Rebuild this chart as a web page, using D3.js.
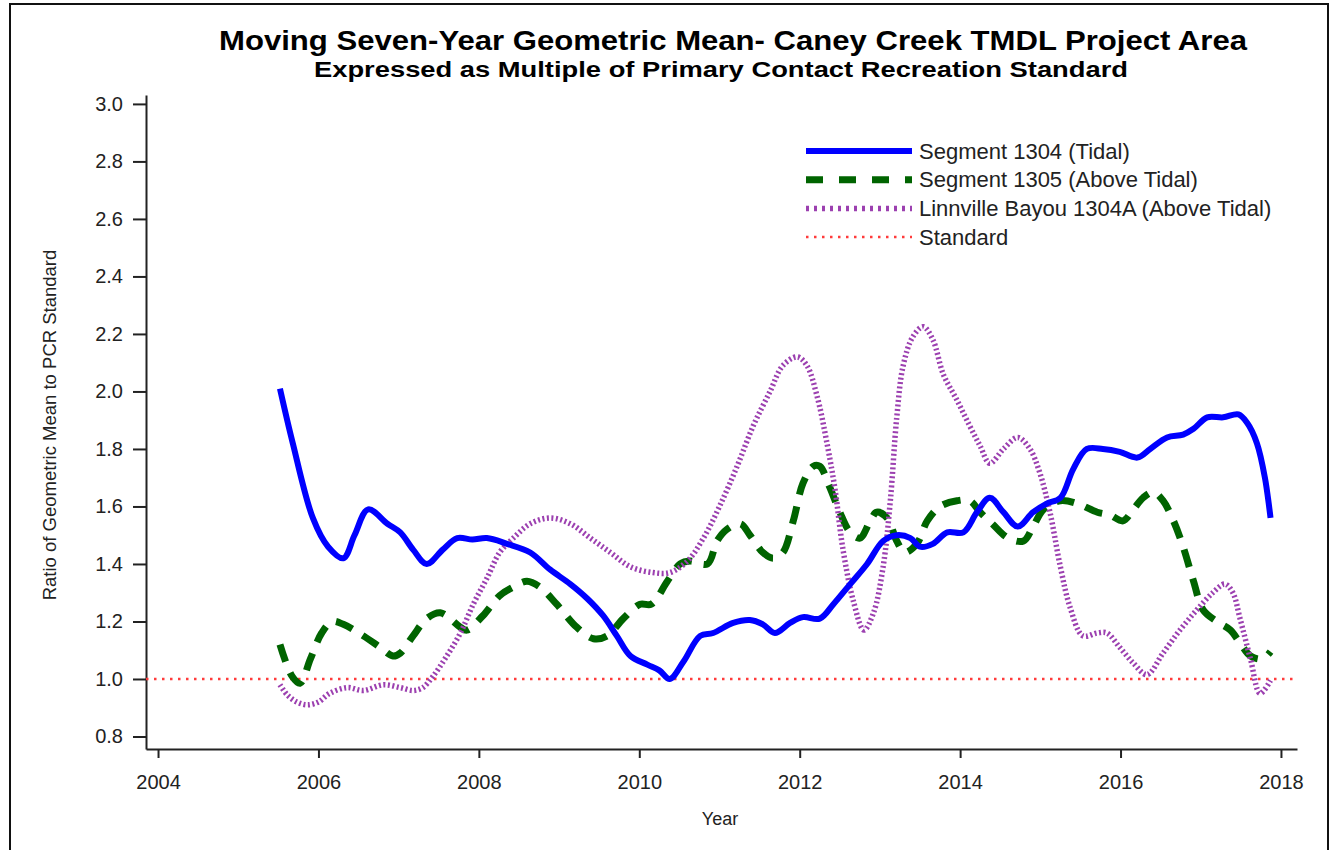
<!DOCTYPE html>
<html lang="en">
<head>
  <meta charset="utf-8">
  <title>Moving Seven-Year Geometric Mean</title>
  <script src="https://cdn.jsdelivr.net/npm/d3@7"></script>
  <style>
    body { margin: 0; background: #fff; }
    svg text { font-family: "Liberation Sans", Arial, sans-serif; fill: #222; }
    .axis path, .axis line { stroke: #222; stroke-width: 2px; }
  </style>
</head>
<body>
<svg width="1330" height="850"></svg>
<script>

// values (year, ratio)
var seg1304Years = [2005.52, 2005.68, 2005.93, 2006.12, 2006.31, 2006.45, 2006.62, 2006.86, 2007.02, 2007.18, 2007.35, 2007.55, 2007.73, 2007.92, 2008.10, 2008.35, 2008.64, 2008.89, 2009.14, 2009.35, 2009.55, 2009.72, 2009.89, 2010.10, 2010.25, 2010.38, 2010.55, 2010.76, 2010.92, 2011.17, 2011.38, 2011.54, 2011.69, 2011.88, 2012.04, 2012.25, 2012.42, 2012.63, 2012.84, 2013.04, 2013.21, 2013.38, 2013.50, 2013.66, 2013.84, 2014.04, 2014.21, 2014.37, 2014.54, 2014.72, 2014.91, 2015.08, 2015.25, 2015.41, 2015.58, 2015.78, 2015.99, 2016.21, 2016.37, 2016.58, 2016.78, 2016.91, 2017.08, 2017.28, 2017.47, 2017.58, 2017.70, 2017.80, 2017.87];
var seg1304Vals = [2.01, 1.82, 1.56, 1.46, 1.42, 1.50, 1.59, 1.54, 1.51, 1.45, 1.40, 1.45, 1.49, 1.485, 1.49, 1.47, 1.44, 1.38, 1.33, 1.28, 1.22, 1.15, 1.08, 1.05, 1.03, 1.00, 1.06, 1.15, 1.16, 1.195, 1.205, 1.19, 1.16, 1.195, 1.215, 1.21, 1.26, 1.33, 1.40, 1.48, 1.50, 1.49, 1.46, 1.47, 1.51, 1.51, 1.58, 1.63, 1.58, 1.53, 1.58, 1.61, 1.63, 1.73, 1.80, 1.80, 1.79, 1.77, 1.80, 1.84, 1.85, 1.87, 1.91, 1.91, 1.92, 1.89, 1.82, 1.70, 1.56];

var seg1305Years = [2005.52, 2005.67, 2005.77, 2005.90, 2006.04, 2006.17, 2006.31, 2006.56, 2006.77, 2006.93, 2007.02, 2007.18, 2007.35, 2007.52, 2007.77, 2007.85, 2008.05, 2008.26, 2008.43, 2008.60, 2008.76, 2008.97, 2009.22, 2009.43, 2009.60, 2009.80, 2010.01, 2010.15, 2010.35, 2010.51, 2010.63, 2010.85, 2010.97, 2011.09, 2011.26, 2011.38, 2011.54, 2011.67, 2011.79, 2011.92, 2012.04, 2012.17, 2012.25, 2012.37, 2012.50, 2012.63, 2012.75, 2012.88, 2012.96, 2013.09, 2013.21, 2013.31, 2013.46, 2013.59, 2013.75, 2013.96, 2014.12, 2014.25, 2014.40, 2014.60, 2014.79, 2014.91, 2015.04, 2015.25, 2015.46, 2015.71, 2015.87, 2016.03, 2016.16, 2016.28, 2016.41, 2016.53, 2016.66, 2016.78, 2016.91, 2017.03, 2017.20, 2017.37, 2017.49, 2017.62, 2017.77, 2017.87];
var seg1305Vals = [1.12, 1.01, 0.985, 1.07, 1.16, 1.20, 1.19, 1.15, 1.11, 1.08, 1.09, 1.15, 1.21, 1.23, 1.18, 1.17, 1.22, 1.29, 1.32, 1.34, 1.32, 1.26, 1.18, 1.14, 1.15, 1.21, 1.26, 1.26, 1.34, 1.40, 1.41, 1.40, 1.48, 1.52, 1.54, 1.50, 1.44, 1.42, 1.44, 1.55, 1.68, 1.74, 1.74, 1.67, 1.58, 1.51, 1.49, 1.55, 1.58, 1.56, 1.48, 1.44, 1.47, 1.55, 1.60, 1.62, 1.62, 1.58, 1.54, 1.49, 1.48, 1.53, 1.59, 1.62, 1.61, 1.58, 1.57, 1.55, 1.59, 1.63, 1.65, 1.62, 1.55, 1.46, 1.34, 1.24, 1.20, 1.17, 1.125, 1.08, 1.07, 1.095];

var linnYears = [2005.52, 2005.61, 2005.73, 2005.86, 2006.00, 2006.14, 2006.36, 2006.56, 2006.81, 2007.02, 2007.18, 2007.30, 2007.43, 2007.60, 2007.77, 2007.93, 2008.10, 2008.26, 2008.43, 2008.64, 2008.89, 2009.14, 2009.39, 2009.64, 2009.89, 2010.17, 2010.38, 2010.60, 2010.80, 2011.00, 2011.22, 2011.42, 2011.63, 2011.79, 2011.97, 2012.09, 2012.22, 2012.34, 2012.44, 2012.54, 2012.67, 2012.80, 2012.92, 2013.04, 2013.13, 2013.21, 2013.29, 2013.41, 2013.54, 2013.66, 2013.79, 2013.96, 2014.12, 2014.25, 2014.37, 2014.54, 2014.72, 2014.87, 2014.99, 2015.12, 2015.25, 2015.37, 2015.53, 2015.71, 2015.83, 2015.99, 2016.16, 2016.33, 2016.53, 2016.74, 2016.95, 2017.15, 2017.30, 2017.40, 2017.49, 2017.62, 2017.74, 2017.87];
var linnVals = [0.98, 0.945, 0.92, 0.91, 0.92, 0.95, 0.97, 0.96, 0.98, 0.97, 0.96, 0.97, 1.01, 1.08, 1.16, 1.26, 1.35, 1.44, 1.49, 1.54, 1.56, 1.54, 1.49, 1.44, 1.39, 1.37, 1.37, 1.41, 1.49, 1.60, 1.74, 1.88, 2.00, 2.09, 2.12, 2.09, 1.98, 1.82, 1.66, 1.45, 1.27, 1.17, 1.23, 1.39, 1.62, 1.91, 2.09, 2.19, 2.225, 2.18, 2.06, 1.97, 1.88, 1.81, 1.75, 1.80, 1.84, 1.80, 1.72, 1.58, 1.39, 1.25, 1.15, 1.16, 1.16, 1.11, 1.055, 1.015, 1.09, 1.17, 1.24, 1.30, 1.33, 1.30, 1.21, 1.07, 0.95, 0.995];

var standardYears = [2003.85, 2018.2];
var standardVals = [1.0, 1.0];

var xTicks = [2004, 2006, 2008, 2010, 2012, 2014, 2016, 2018];
var yTicks = [0.8, 1.0, 1.2, 1.4, 1.6, 1.8, 2.0, 2.2, 2.4, 2.6, 2.8, 3.0];

var seriesNames = ["Segment 1304 (Tidal)", "Segment 1305 (Above Tidal)", "Linnville Bayou 1304A (Above Tidal)", "Standard"];

var svg = d3.select("svg");

var x = d3.scaleLinear().domain([2003.85, 2018.2]).range([146, 1297]);
var y = d3.scaleLinear().domain([0.7565, 3.031]).range([749, 95]);

function pairs(xs, vs) {
  return xs.map(function(d, i) { return [d, vs[i]]; });
}

var styles = [
  {data: pairs(seg1304Years, seg1304Vals), color: "#0000ff", width: 6, dash: null, legendDash: null},
  {data: pairs(seg1305Years, seg1305Vals), color: "#006400", width: 7, dash: "18,12", legendDash: "17,16"},
  {data: pairs(linnYears, linnVals), color: "#9c40b0", width: 5.5, dash: "2,2.5", legendDash: "3,5"},
  {data: pairs(standardYears, standardVals), color: "#ff3b3b", width: 2.5, dash: "2.5,5.5", legendDash: "2.5,5.5"}
];

// frame around the picture
svg.append("path")
    .attr("d", "M10,850 V4 H1328 V850")
    .attr("fill", "none")
    .attr("stroke", "#111")
    .attr("stroke-width", 2);

// titles
svg.append("text")
    .attr("x", 733).attr("y", 50)
    .attr("text-anchor", "middle")
    .attr("textLength", 1028).attr("lengthAdjust", "spacingAndGlyphs")
    .style("font-size", "28px").style("font-weight", "bold")
    .style("fill", "#000")
    .text("Moving Seven-Year Geometric Mean- Caney Creek TMDL Project Area");

svg.append("text")
    .attr("x", 721).attr("y", 77)
    .attr("text-anchor", "middle")
    .attr("textLength", 814).attr("lengthAdjust", "spacingAndGlyphs")
    .style("font-size", "22px").style("font-weight", "bold")
    .style("fill", "#000")
    .text("Expressed as Multiple of Primary Contact Recreation Standard");

// axes
var yAxis = svg.append("g")
    .attr("class", "axis")
    .attr("transform", "translate(146,0)")
    .call(d3.axisLeft(y).tickValues(yTicks).tickFormat(d3.format(".1f")).tickSize(13).tickPadding(10).tickSizeOuter(0));
yAxis.selectAll("text").style("font-size", "20px");

var xAxis = svg.append("g")
    .attr("class", "axis")
    .attr("transform", "translate(0,749)")
    .call(d3.axisBottom(x).tickValues(xTicks).tickFormat(d3.format("d")).tickSize(9).tickPadding(17).tickSizeOuter(0));
xAxis.selectAll("text").style("font-size", "20px");

svg.append("text")
    .attr("x", 720).attr("y", 825)
    .attr("text-anchor", "middle")
    .style("font-size", "18px")
    .text("Year");

svg.append("text")
    .attr("transform", "translate(56,425) rotate(-90)")
    .attr("text-anchor", "middle")
    .style("font-size", "18.5px")
    .text("Ratio of Geometric Mean to PCR Standard");

// lines
var line = d3.line()
    .curve(d3.curveCatmullRom.alpha(0.5))
    .x(function(d) { return x(d[0]); })
    .y(function(d) { return y(d[1]); });

var drawOrder = [3, 1, 2, 0];
drawOrder.forEach(function(i) {
  var s = styles[i];
  svg.append("path")
      .datum(s.data)
      .attr("fill", "none")
      .attr("stroke", s.color)
      .attr("stroke-width", s.width)
      .attr("stroke-dasharray", s.dash)
      .attr("d", line);
});

// legend
var legend = svg.append("g").attr("transform", "translate(806,151)");
var rows = legend.selectAll("g")
    .data(styles)
    .enter().append("g")
    .attr("transform", function(d, i) { return "translate(0," + (i * 28.7) + ")"; });

rows.append("line")
    .attr("x1", 0).attr("x2", 106)
    .attr("stroke", function(d) { return d.color; })
    .attr("stroke-width", function(d) { return d.width; })
    .attr("stroke-dasharray", function(d) { return d.legendDash; });

rows.append("text")
    .attr("x", 113).attr("dy", "0.35em")
    .style("font-size", "22px")
    .text(function(d, i) { return seriesNames[i]; });

</script>
</body>
</html>
